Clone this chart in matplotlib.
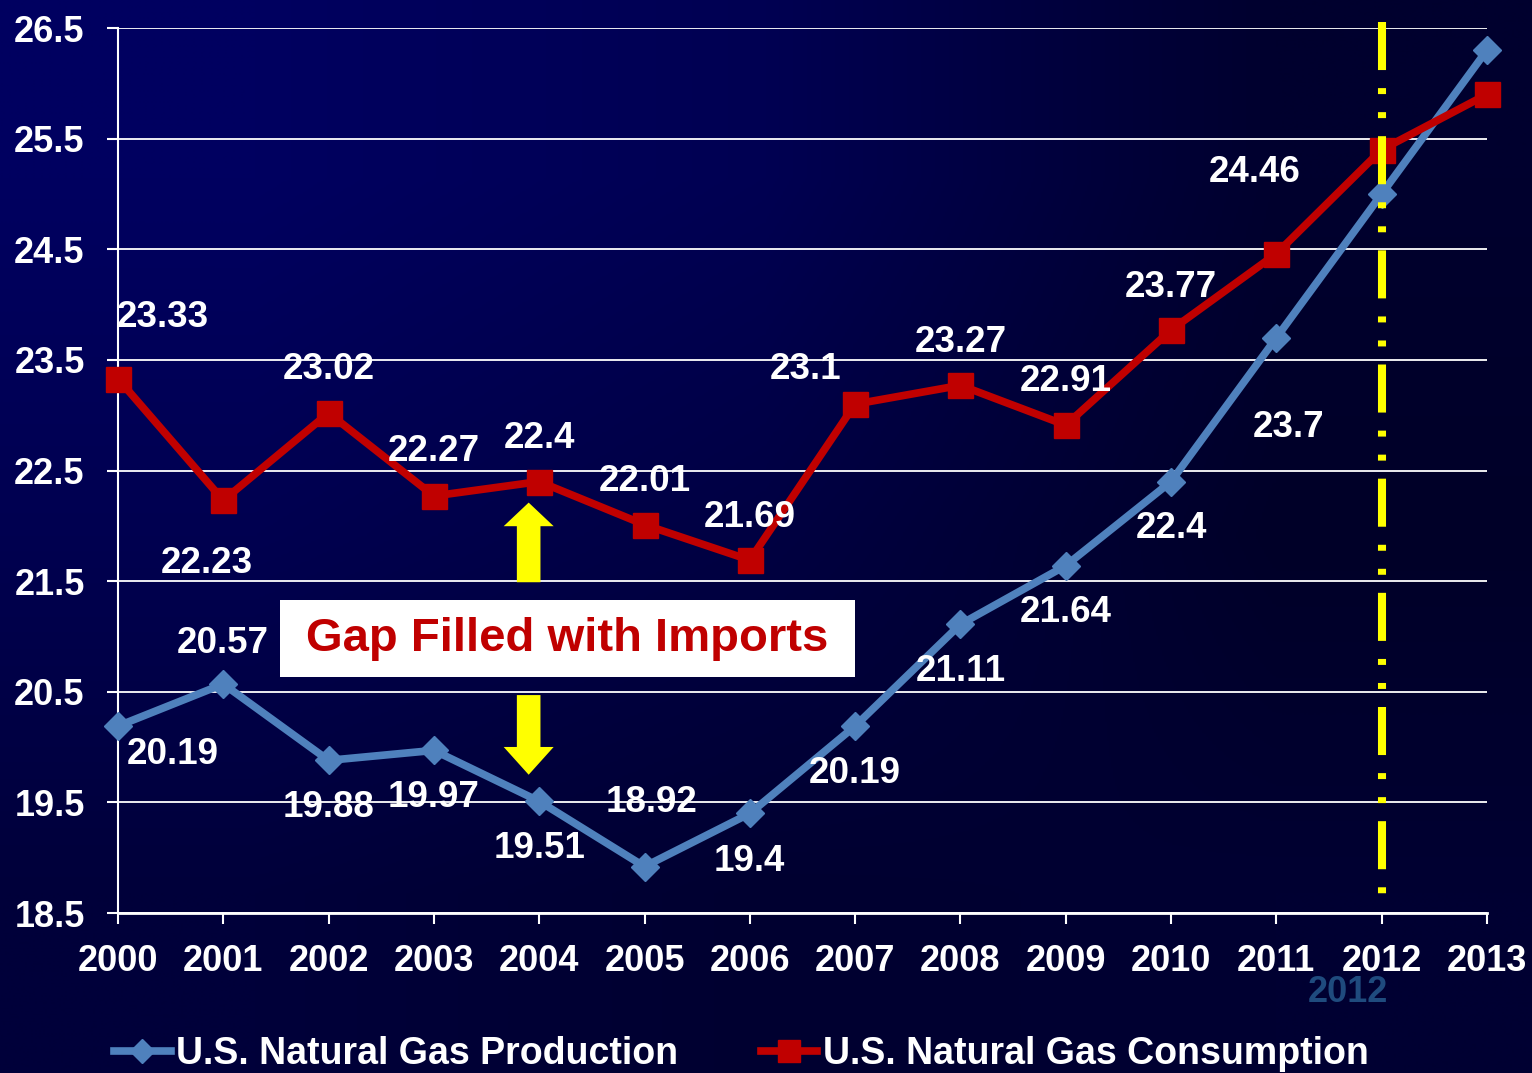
import numpy as np
import matplotlib.pyplot as plt
from matplotlib.patches import Rectangle

plt.rcParams['font.family'] = ['Liberation Sans', 'DejaVu Sans']
plt.rcParams['font.weight'] = 'bold'
plt.rcParams['lines.scale_dashes'] = False

# data (trillion cubic feet)
years = list(range(2000, 2014))
production = [20.19, 20.57, 19.88, 19.97, 19.51, 18.92, 19.4,
              20.19, 21.11, 21.64, 22.4, 23.7, 25.0, 26.3]
consumption = [23.33, 22.23, 23.02, 22.27, 22.4, 22.01, 21.69,
               23.1, 23.27, 22.91, 23.77, 24.46, 25.4, 25.9]
n_labeled = 12
y_ticks = [18.5, 19.5, 20.5, 21.5, 22.5, 23.5, 24.5, 25.5, 26.5]

# label placement (offset pixels from each point)
prod_offsets = [(55, -28), (-1, 41), (0, -47), (0, -47), (0, -47), (7, 64),
                (0, -48), (0, -47), (0, -47), (0, -47), (0, -47), (12, -90)]
cons_offsets = [(45, 61), (-16, -63), (0, 43), (0, 44), (0, 43), (0, 43),
                (0, 43), (-50, 35), (0, 43), (0, 44), (0, 43), (-22, 81)]

BLUE = '#4F81BD'
RED = '#C00000'

fig = plt.figure(figsize=(15.32, 10.73), dpi=100)

# background gradient
bg = fig.add_axes([0, 0, 1, 1], zorder=-1)
grid = np.array([[96, 82, 46],
                 [80, 66, 40],
                 [58, 48, 50]]) / 255.0
img = np.zeros((3, 3, 3))
img[..., 2] = grid
bg.imshow(img, aspect='auto', interpolation='bilinear', extent=[0, 1, 0, 1])
bg.axis('off')

ax = fig.add_axes([0.0770, 0.1491, 0.8936, 0.8248])
ax.set_facecolor('none')

lp, = ax.plot(years, production, color=BLUE, lw=5.5, marker='D', ms=14,
              label='U.S. Natural Gas Production', clip_on=False, zorder=4)
lc, = ax.plot(years, consumption, color=RED, lw=5.5, marker='s', ms=18,
              label='U.S. Natural Gas Consumption', clip_on=False, zorder=4)

for i in range(n_labeled):
    ax.annotate('{:g}'.format(production[i]), (years[i], production[i]),
                xytext=prod_offsets[i], textcoords='offset pixels',
                ha='center', va='center', color='white', fontsize=26.5, zorder=6)
    ax.annotate('{:g}'.format(consumption[i]), (years[i], consumption[i]),
                xytext=cons_offsets[i], textcoords='offset pixels',
                ha='center', va='center', color='white', fontsize=26.5, zorder=6)

# 2012 marker line
ax.plot([2012, 2012], [26.55, 18.55], color='#FFFF00', lw=5.8,
        dash_capstyle='butt', linestyle=(0, (34.6, 13, 4.3, 13, 4.3, 13)),
        clip_on=False, zorder=5)

# gap annotation
ax.add_patch(Rectangle((2001.54, 20.63), 5.46, 0.70, facecolor='white',
                       edgecolor='none', zorder=7))
ax.text(2004.27, 20.98, 'Gap Filled with Imports', color=RED, fontsize=34,
        ha='center', va='center', zorder=8)
arrow = dict(arrowstyle='simple,head_width=36,head_length=17,tail_width=17',
             mutation_scale=1, color='#FFFF00', shrinkA=0, shrinkB=0, lw=0)
ax.annotate('', xy=(2003.9, 22.21), xytext=(2003.9, 21.49), arrowprops=arrow, zorder=6)
arrow_dn = dict(arrow, arrowstyle='simple,head_width=36,head_length=20,tail_width=17')
ax.annotate('', xy=(2003.9, 19.75), xytext=(2003.9, 20.47), arrowprops=arrow_dn, zorder=6)

ax.set_xlim(2000, 2013)
ax.set_ylim(18.5, 26.5)
ax.set_xticks(years)
ax.set_xticklabels([str(y) for y in years])
ax.set_yticks(y_ticks)
ax.set_yticklabels(['{:.1f}'.format(v) for v in y_ticks])
ax.grid(axis='y', color='white', lw=1.3)
ax.set_axisbelow(True)
for s in ['top', 'right']:
    ax.spines[s].set_visible(False)
ax.spines['left'].set_color('white')
ax.spines['left'].set_linewidth(1.5)
ax.spines['bottom'].set_color('white')
ax.spines['bottom'].set_linewidth(2)
ax.tick_params(axis='both', colors='white', labelsize=26, length=8, width=1.5)
ax.tick_params(axis='y', pad=16)
ax.tick_params(axis='x', pad=14)

fig.text(1348 / 1532, 1 - 992 / 1073, '2012', color='#1F4B7E', fontsize=26,
         ha='center', va='center')

fig.legend(handles=[lp, lc], loc='center', bbox_to_anchor=(0.484, 0.018), ncol=2,
           frameon=False, fontsize=27, labelcolor='white', handlelength=1.5,
           handletextpad=0.15, columnspacing=2.2, markerscale=0.9)

fig.savefig('out.png', dpi=100)
